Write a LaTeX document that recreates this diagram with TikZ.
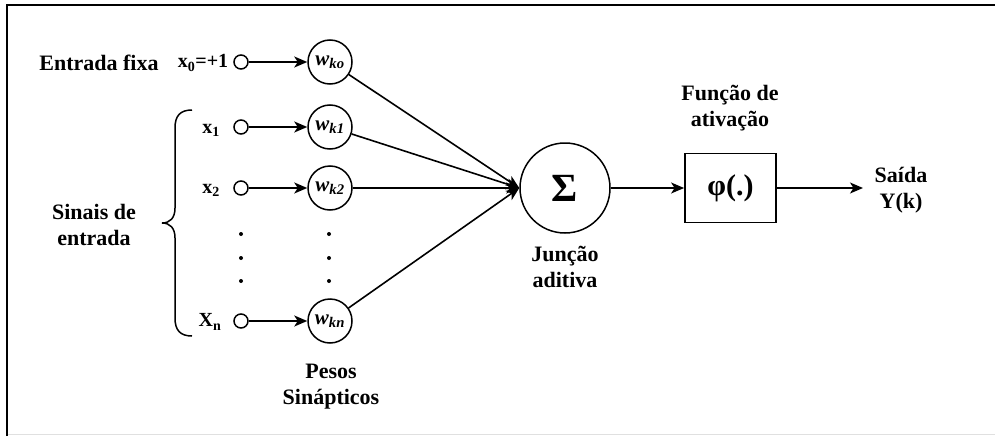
\documentclass[tikz,border=0pt]{standalone}
\usepackage{fontspec}
\setmainfont{Liberation Serif}
\usetikzlibrary{arrows.meta}
\begin{document}
\begin{tikzpicture}[x=1pt,y=-1pt,
 line width=1.6pt,
 arr/.style={-{Stealth[length=13pt,width=11pt,inset=3.5pt]}},
 port/.style={circle,draw,minimum size=14pt,inner sep=0pt,line width=1.5pt},
 wnode/.style={circle,draw,minimum size=44pt,inner sep=0pt,line width=1.5pt,font=\fontsize{21}{21}\selectfont\bfseries\itshape},
 lbl/.style={font=\fontsize{22}{26}\selectfont\bfseries,align=center,inner sep=0pt},
 xlbl/.style={font=\fontsize{20}{22}\selectfont\bfseries,inner sep=0pt},
 dotn/.style={circle,fill,minimum size=4pt,inner sep=0pt}]
\useasboundingbox (0,0) rectangle (995,436);
% frame
\draw[line width=2pt] (7,436) -- (7,5) -- (995,5);
\draw[line width=1pt,black!12] (8,434) -- (995,434);
% input labels
\node[lbl] (fixa) at (99,63) {Entrada fixa};
\node[xlbl] (lx0) at (203,63) {x\textsubscript{0}=+1};
\node[xlbl] (lx1) at (211,130) {x\textsubscript{1}};
\node[xlbl] (lx2) at (211,190) {x\textsubscript{2}};
\node[xlbl] (lxn) at (210,322) {X\textsubscript{n}};
\node[lbl] (sinais) at (94,225) {Sinais de\\entrada};
% brace
\draw[line width=1.5pt] (192,110) .. controls (180,110) and (175,116) .. (175,128)
  -- (175,208) .. controls (175,218) and (170,223) .. (162,223)
  .. controls (170,223) and (175,228) .. (175,238)
  -- (175,318) .. controls (175,330) and (180,336) .. (192,336);
% ports
\node[port] (i0) at (241,62) {};
\node[port] (i1) at (241,127) {};
\node[port] (i2) at (241,188) {};
\node[port] (in) at (241,321) {};
% weights
\node[wnode] (w0) at (330,62) {w\textsubscript{ko}};
\node[wnode] (w1) at (330,127) {w\textsubscript{k1}};
\node[wnode] (w2) at (330,188) {w\textsubscript{k2}};
\node[wnode] (wn) at (330,321) {w\textsubscript{kn}};
% dots
\node[dotn] (d1) at (241,234) {};
\node[dotn] (d2) at (241,258) {};
\node[dotn] (d3) at (241,281) {};
\node[dotn] (e1) at (329,234) {};
\node[dotn] (e2) at (329,258) {};
\node[dotn] (e3) at (329,281) {};
\node[lbl] (pesos) at (331,387) {Pesos\\Sinápticos};
% sum
\node[circle,draw,line width=1.5pt,minimum size=90pt,inner sep=0pt,font=\fontsize{40}{40}\selectfont\bfseries] (sum) at (565,188) {Σ};
\node[lbl] (junc) at (565,267) {Junção\\aditiva};
% activation
\node[draw,line width=1.8pt,minimum width=91pt,minimum height=69pt,inner sep=0pt,font=\fontsize{30}{30}\selectfont\bfseries] (phi) at (730.5,188) {φ(.)};
\node[lbl] (func) at (730,108) {Função de\\ativação};
\coordinate (out) at (863,188);
\node[lbl] (saida) at (901,190) {Saída\\Y(k)};
% connectors
\draw[arr] (i0) -- (w0);
\draw[arr] (i1) -- (w1);
\draw[arr] (i2) -- (w2);
\draw[arr] (in) -- (wn);
\draw[arr] (w0) -- (sum.west);
\draw[arr] (w1) -- (sum.west);
\draw[arr] (w2) -- (sum.west);
\draw[arr] (wn) -- (sum.west);
\draw[arr] (sum) -- (phi);
\draw[arr] (phi) -- (out);
\end{tikzpicture}
\end{document}
